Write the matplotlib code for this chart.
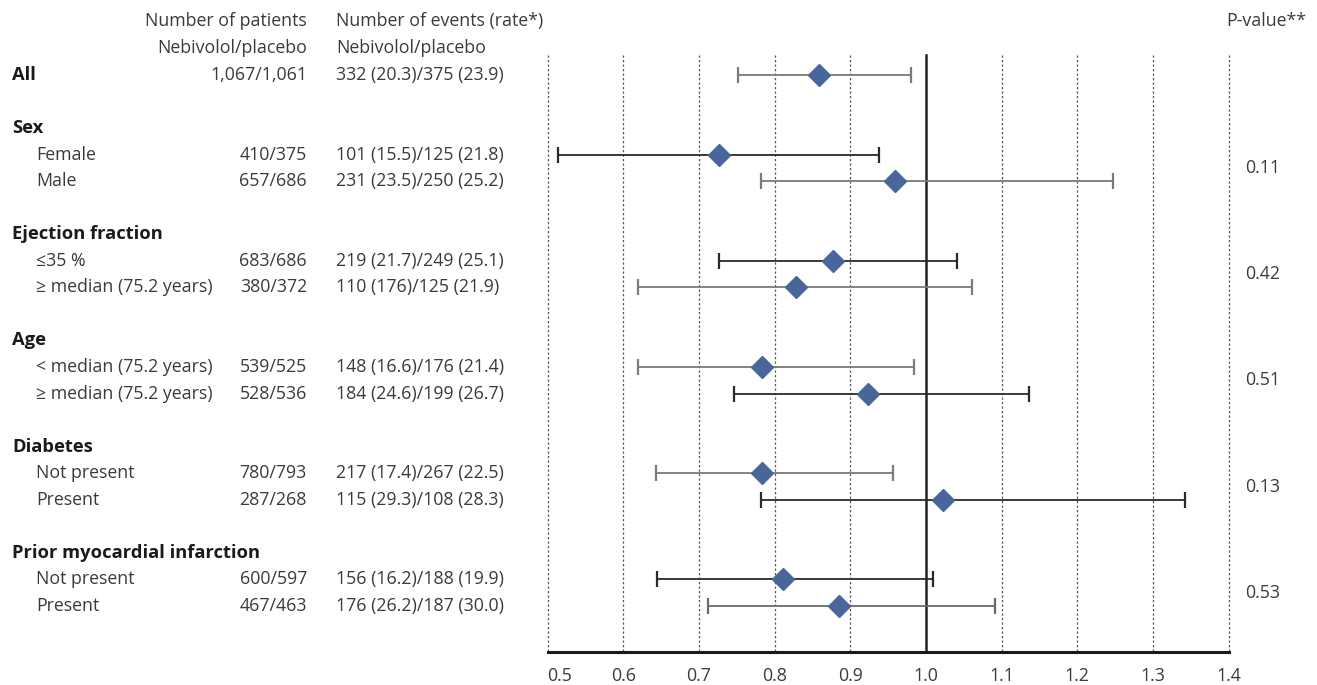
import matplotlib
matplotlib.use("Agg")
import matplotlib.pyplot as plt
import matplotlib.transforms as mtransforms

# ---------------- data ----------------
labels = ["All", "Sex", "Female", "Male", "Ejection fraction", "\u226435 %",
          "\u2265 median (75.2 years)", "Age", "< median (75.2 years)",
          "\u2265 median (75.2 years)", "Diabetes", "Not present", "Present",
          "Prior myocardial infarction", "Not present", "Present"]
is_header = [True, True, False, False, True, False, False, True, False, False,
             True, False, False, True, False, False]
patients = ["1,067/1,061", "", "410/375", "657/686", "", "683/686", "380/372", "",
            "539/525", "528/536", "", "780/793", "287/268", "", "600/597", "467/463"]
events = ["332 (20.3)/375 (23.9)", "", "101 (15.5)/125 (21.8)", "231 (23.5)/250 (25.2)", "",
          "219 (21.7)/249 (25.1)", "110 (176)/125 (21.9)", "", "148 (16.6)/176 (21.4)",
          "184 (24.6)/199 (26.7)", "", "217 (17.4)/267 (22.5)", "115 (29.3)/108 (28.3)", "",
          "156 (16.2)/188 (19.9)", "176 (26.2)/187 (30.0)"]
hr = [0.859, None, 0.726, 0.959, None, 0.877, 0.829, None, 0.783, 0.924, None,
      0.784, 1.023, None, 0.811, 0.885]
ci_low = [0.752, None, 0.514, 0.782, None, 0.727, 0.619, None, 0.619, 0.747, None,
          0.644, 0.782, None, 0.645, 0.712]
ci_high = [0.981, None, 0.938, 1.247, None, 1.041, 1.061, None, 0.984, 1.136, None,
           0.956, 1.343, None, 1.009, 1.091]
p_values = ["0.11", "0.42", "0.51", "0.13", "0.53"]
xticks = [0.5, 0.6, 0.7, 0.8, 0.9, 1.0, 1.1, 1.2, 1.3, 1.4]
xticklabels = ["0.5", "0.6", "0.7", "0.8", "0.9", "1.0", "1.1", "1.2", "1.3", "1.4"]

# ---------------- style ----------------
plt.rcParams['font.family'] = ['Open Sans', 'DejaVu Sans']
TXT = "#3a3a3a"
DIAMOND = "#48669a"
bar_colors = ["#7a7a7a", None, "#2a2a2a", "#7a7a7a", None, "#2a2a2a", "#7a7a7a", None,
              "#7a7a7a", "#2a2a2a", None, "#7a7a7a", "#2a2a2a", None, "#2a2a2a", "#6a6a6a"]
FS = 12.8
FSB = 13.2

W, H = 1317, 685
fig = plt.figure(figsize=(W / 100, H / 100), dpi=100)

x0_px, x1_px = 547.5, 1228.5
bottom_px = 652
ax = fig.add_axes([x0_px / W, (H - bottom_px) / H, (x1_px - x0_px) / W, bottom_px / H])

# row positions: gap rows between groups
ypos = []
y = 0
for i, h in enumerate(is_header):
    if h and i > 0:
        y += 1
    ypos.append(y)
    y += 1

row_px = 26.55
first_px = 75
ax.set_xlim(0.5, 1.4)
ax.set_ylim((bottom_px - first_px) / row_px, -first_px / row_px)

# gridlines
grid_top = (55 - first_px) / row_px
grid_bot = (bottom_px - first_px) / row_px
for t in xticks:
    if abs(t - 1.0) < 1e-9:
        ax.plot([t, t], [grid_top, grid_bot], color="#222222", lw=1.8, zorder=2,
                clip_on=False)
    else:
        ax.plot([t, t], [grid_top, grid_bot], color="#555555", lw=0.9,
                linestyle=(0, (1.8, 1.8)), zorder=1, clip_on=False)

# error bars and diamonds
for i in range(len(labels)):
    if hr[i] is None:
        continue
    yy = ypos[i]
    ax.errorbar([hr[i]], [yy], xerr=[[hr[i] - ci_low[i]], [ci_high[i] - hr[i]]],
                fmt="none", ecolor=bar_colors[i], elinewidth=1.3, capsize=5.8,
                capthick=1.6, zorder=3)
    ax.plot([hr[i]], [yy], marker="D", markersize=11.2, color=DIAMOND,
            markeredgecolor=DIAMOND, linestyle="none", zorder=4)

for s in ["top", "right", "left"]:
    ax.spines[s].set_visible(False)
ax.spines["bottom"].set_linewidth(2.2)
ax.spines["bottom"].set_color("#1a1a1a")
ax.set_yticks([])
ax.set_xticks(xticks)
ax.set_xticklabels(xticklabels, fontsize=FS, color=TXT)
ax.tick_params(axis="x", length=0, pad=11)
ax.get_xticklabels()[0].set_horizontalalignment("left")
ax.patch.set_visible(False)

# text columns
trans = mtransforms.blended_transform_factory(fig.transFigure, ax.transData)
hdr_y1 = (21 - first_px) / row_px
hdr_y2 = (48 - first_px) / row_px
fig_x = lambda px: px / W

ax.text(fig_x(307), hdr_y1, "Number of patients", transform=trans, ha="right", va="center",
        fontsize=FS, color=TXT)
ax.text(fig_x(307), hdr_y2, "Nebivolol/placebo", transform=trans, ha="right", va="center",
        fontsize=FS, color=TXT)
ax.text(fig_x(336), hdr_y1, "Number of events (rate*)", transform=trans, ha="left",
        va="center", fontsize=FS, color=TXT)
ax.text(fig_x(336), hdr_y2, "Nebivolol/placebo", transform=trans, ha="left", va="center",
        fontsize=FS, color=TXT)
ax.text(fig_x(1226), hdr_y1, "P-value**", transform=trans, ha="left", va="center",
        fontsize=FS, color=TXT)

for i, lab in enumerate(labels):
    yy = ypos[i]
    if is_header[i]:
        ax.text(fig_x(12), yy, lab, transform=trans, ha="left", va="center",
                fontsize=FSB, fontweight="bold", color="#1a1a1a")
    else:
        ax.text(fig_x(36), yy, lab, transform=trans, ha="left", va="center",
                fontsize=FS, color=TXT)
    if patients[i]:
        ax.text(fig_x(307), yy, patients[i], transform=trans, ha="right", va="center",
                fontsize=FS, color=TXT)
    if events[i]:
        ax.text(fig_x(336), yy, events[i], transform=trans, ha="left", va="center",
                fontsize=FS, color=TXT)

# p-values between each pair of subgroup rows
pairs = [i for i in range(len(labels)) if is_header[i] and i > 0]
for k, h in enumerate(pairs):
    yy = (ypos[h + 1] + ypos[h + 2]) / 2
    ax.text(fig_x(1245), yy, p_values[k], transform=trans, ha="left", va="center",
            fontsize=FS, color=TXT)

fig.savefig("out.png", dpi=100)
